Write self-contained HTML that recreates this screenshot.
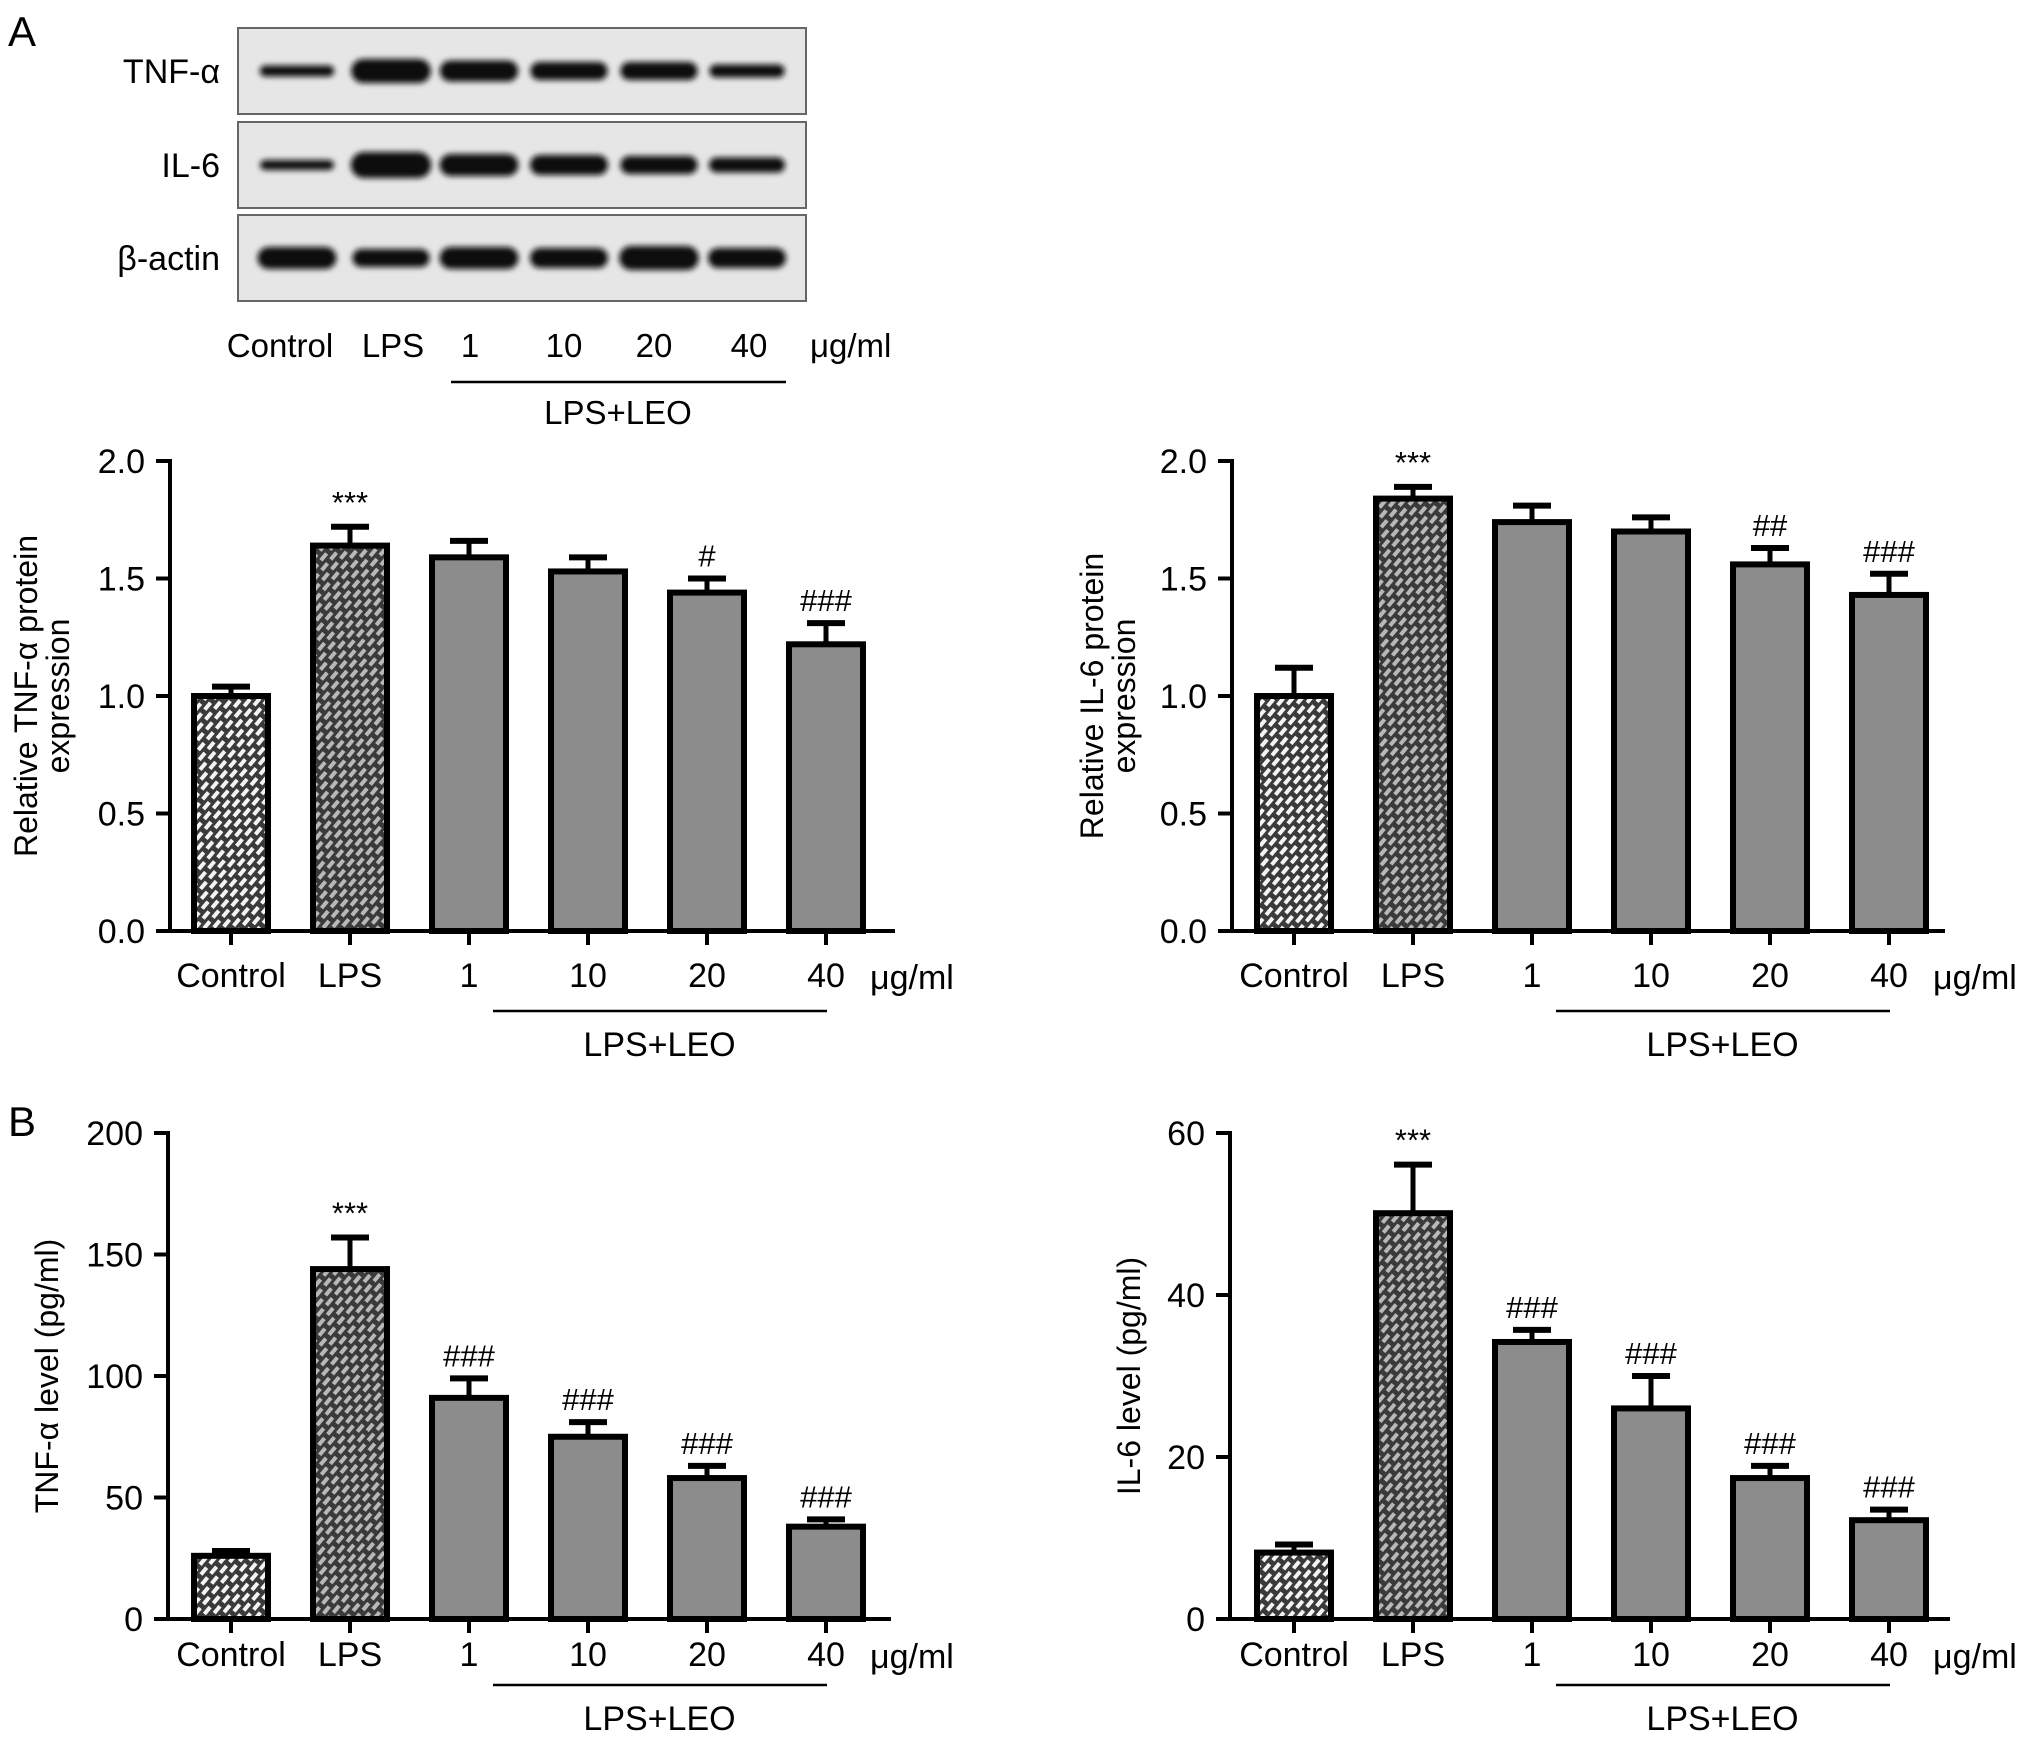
<!DOCTYPE html>
<html><head><meta charset="utf-8">
<style>
html,body{margin:0;padding:0;background:#fff;}
svg{display:block;font-family:"Liberation Sans",Arial,sans-serif;}
</style></head>
<body>
<svg id="fig" width="2032" height="1741" viewBox="0 0 2032 1741" xmlns="http://www.w3.org/2000/svg">
<defs>
  <pattern id="hatchCtrl" patternUnits="userSpaceOnUse" width="14" height="14" patternTransform="rotate(-50)">
    <rect width="14" height="14" fill="#3a3a3a"/>
    <rect x="1" y="2" width="9" height="4" fill="#f4f4f4"/>
    <rect x="8" y="9" width="9" height="4" fill="#f4f4f4"/>
    <rect x="-6" y="9" width="9" height="4" fill="#f4f4f4"/>
  </pattern>
  <pattern id="hatchLps" patternUnits="userSpaceOnUse" width="14" height="14" patternTransform="rotate(-50)">
    <rect width="14" height="14" fill="#3a3a3a"/>
    <rect x="1" y="2" width="9" height="4" fill="#b8b8b8"/>
    <rect x="8" y="9" width="9" height="4" fill="#b8b8b8"/>
    <rect x="-6" y="9" width="9" height="4" fill="#b8b8b8"/>
  </pattern>
  <filter id="blur" x="-30%" y="-100%" width="160%" height="300%"><feGaussianBlur stdDeviation="3"/></filter>
</defs>

<text x="8" y="46" font-size="42">A</text>
<text x="8" y="1136" font-size="42">B</text>

<g id="blot"></g>
<g id="charts"></g>
</svg>
<script>
const NS = "http://www.w3.org/2000/svg";
const svg = document.getElementById('fig');
function mk(tag, attrs, parent){ const e=document.createElementNS(NS,tag); for(const k in attrs) e.setAttribute(k,attrs[k]); (parent||svg).appendChild(e); return e; }

// ---------- data ----------
const categories = ["Control","LPS","1","10","20","40"];
const tnfProteinValues = [1.00,1.64,1.59,1.53,1.44,1.22];
const tnfProteinErrors = [0.04,0.08,0.07,0.06,0.06,0.09];
const tnfProteinSig = ["","***","","","#","###"];
const il6ProteinValues = [1.00,1.84,1.74,1.70,1.56,1.43];
const il6ProteinErrors = [0.12,0.05,0.07,0.06,0.07,0.09];
const il6ProteinSig = ["","***","","","##","###"];
const tnfLevelValues = [26,144,91,75,58,38];
const tnfLevelErrors = [2,13,8,6,5,3];
const tnfLevelSig = ["","***","###","###","###","###"];
const il6LevelValues = [8.2,50.1,34.2,26.0,17.4,12.2];
const il6LevelErrors = [1,6,1.5,4,1.5,1.3];
const il6LevelSig = ["","***","###","###","###","###"];
const ticksProtein = [0,0.5,1.0,1.5,2.0];
const ticksTnf = [0,50,100,150,200];
const ticksIl6 = [0,20,40,60];
const tnfBandHeights = [11,24,21,18,18,13];
const il6BandHeights = [10,26,22,20,18,15];
const actinBandHeights = [22,18,22,20,24,20];

// ---------- western blot ----------
const blot = document.getElementById('blot');
const laneX = [297,391,479,569,659,747];
const rows = [{y:28,h:86,label:"TNF-α",bands:tnfBandHeights,name:"tnf"},{y:122,h:86,label:"IL-6",bands:il6BandHeights,name:"il6"},{y:215,h:86,label:"β-actin",bands:actinBandHeights,name:"actin"}];
rows.forEach(r=>{
  const b=mk('rect',{x:238,y:r.y,width:568,height:r.h,fill:'#e6e6e6',stroke:'#666','stroke-width':2},blot);
  
  
  r.bands.forEach((h,i)=>{
    const w = 70 + h*0.4;
    const e=mk('rect',{x:laneX[i]-w/2,y:r.y+r.h/2-h/2,width:w,height:h,rx:h/2,fill:'#111',filter:'url(#blur)'},blot);
    
    
  });
  const t=mk('text',{x:220,y:r.y+r.h/2+12,'font-size':34,'text-anchor':'end'},blot);
  t.textContent=r.label;
  
  
});
const blotLabelX=[280,393,470,564,654,749];
categories.forEach((c,i)=>{
  const t=mk('text',{x:blotLabelX[i],y:357,'font-size':33,'text-anchor':'middle'},blot);
  t.textContent=c;
  
  
});
{
  const t=mk('text',{x:810,y:357,'font-size':33},blot); t.textContent='μg/ml';
   
  const l=mk('line',{x1:451,x2:786,y1:382,y2:382,stroke:'#000','stroke-width':2.5},blot);
   
  const t2=mk('text',{x:618,y:424,'font-size':33,'text-anchor':'middle'},blot); t2.textContent='LPS+LEO';
   
}

// ---------- bar charts ----------
function drawChart(cfg, values, errors, sig, ticks){
  const g = mk('g',{},document.getElementById('charts'));
  
  
  const yScale = v => cfg.y0 - (v/cfg.max)*(cfg.y0-cfg.yTop);
  const xScale = i => cfg.c0 + i*119;
  const bw = 74;
  values.forEach((v,i)=>{
    const fill = i===0 ? 'url(#hatchCtrl)' : (i===1 ? 'url(#hatchLps)' : '#8c8c8c');
    const y = yScale(v), x = xScale(i);
    const e = errors[i];
    const eb = mk('line',{x1:x,x2:x,y1:y,y2:yScale(v+e),stroke:'#000','stroke-width':5},g);
    
    
    const cap = mk('line',{x1:x-19,x2:x+19,y1:yScale(v+e),y2:yScale(v+e),stroke:'#000','stroke-width':6},g);
    
    
    const r = mk('rect',{x:x-bw/2,y:y,width:bw,height:cfg.y0-y,fill:fill,stroke:'#000','stroke-width':6},g);
    
    
    if(sig[i]){
      const isStar = sig[i].indexOf('*')>=0;
      const t = mk('text',{x:x,y:yScale(v+e)-(isStar?14:12),'font-size':31,'text-anchor':'middle'},g);
      t.textContent = sig[i];
      
      
    }
  });
  const ya = mk('line',{x1:cfg.ax,x2:cfg.ax,y1:cfg.yTop-2,y2:cfg.y0+2,stroke:'#000','stroke-width':4},g);
  
  
  const xa = mk('line',{x1:cfg.ax-14,x2:cfg.xEnd,y1:cfg.y0,y2:cfg.y0,stroke:'#000','stroke-width':4},g);
  
  
  ticks.forEach(tv=>{
    const y=yScale(tv);
    const tk = mk('line',{x1:cfg.ax-14,x2:cfg.ax,y1:y,y2:y,stroke:'#000','stroke-width':4},g);
    
    
    const t = mk('text',{x:cfg.ax-25,y:y+12,'font-size':34,'text-anchor':'end'},g);
    t.textContent = cfg.dec ? tv.toFixed(1) : String(tv);
    
    
  });
  categories.forEach((c,i)=>{
    const x=xScale(i);
    const tk = mk('line',{x1:x,x2:x,y1:cfg.y0,y2:cfg.y0+14,stroke:'#000','stroke-width':4},g);
    
    
    const t = mk('text',{x:x,y:cfg.y0+cfg.xl,'font-size':34,'text-anchor':'middle'},g);
    t.textContent=c;
    
    
  });
  const u = mk('text',{x:xScale(5)+44,y:cfg.y0+cfg.xl+2,'font-size':34},g);
  u.textContent='μg/ml';
  
  
  const br = mk('line',{x1:xScale(2)+24,x2:xScale(5)+1,y1:cfg.y0+cfg.brk,y2:cfg.y0+cfg.brk,stroke:'#000','stroke-width':2.5},g);
  
  
  const bl = mk('text',{x:(xScale(2)+24+xScale(5))/2,y:cfg.y0+cfg.brk+cfg.lo,'font-size':34,'text-anchor':'middle'},g);
  bl.textContent='LPS+LEO';
  
  
  const ty = (cfg.y0+cfg.yTop)/2;
  cfg.title.forEach((line,k)=>{
    const t = mk('text',{x:0,y:0,'font-size':32,'text-anchor':'middle',transform:`translate(${cfg.tx[k]},${ty}) rotate(-90)`},g);
    t.textContent=line;
    
    
  });
}

drawChart({name:'tnf-protein-chart',ax:170,y0:931,yTop:461,max:2,c0:231,xEnd:895,dec:true,xl:56,brk:80,lo:45,title:['Relative TNF-α protein','expression'],tx:[37,69]}, tnfProteinValues, tnfProteinErrors, tnfProteinSig, ticksProtein);
drawChart({name:'il6-protein-chart',ax:1232,y0:931,yTop:461,max:2,c0:1294,xEnd:1945,dec:true,xl:56,brk:80,lo:45,title:['Relative IL-6 protein','expression'],tx:[1103,1135]}, il6ProteinValues, il6ProteinErrors, il6ProteinSig, ticksProtein);
drawChart({name:'tnf-level-chart',ax:168,y0:1619,yTop:1133,max:200,c0:231,xEnd:891,dec:false,xl:47,brk:66,lo:45,title:['TNF-α level (pg/ml)'],tx:[58]}, tnfLevelValues, tnfLevelErrors, tnfLevelSig, ticksTnf);
drawChart({name:'il6-level-chart',ax:1230,y0:1619,yTop:1133,max:60,c0:1294,xEnd:1950,dec:false,xl:47,brk:66,lo:45,title:['IL-6 level (pg/ml)'],tx:[1140]}, il6LevelValues, il6LevelErrors, il6LevelSig, ticksIl6);
</script>
</body></html>
